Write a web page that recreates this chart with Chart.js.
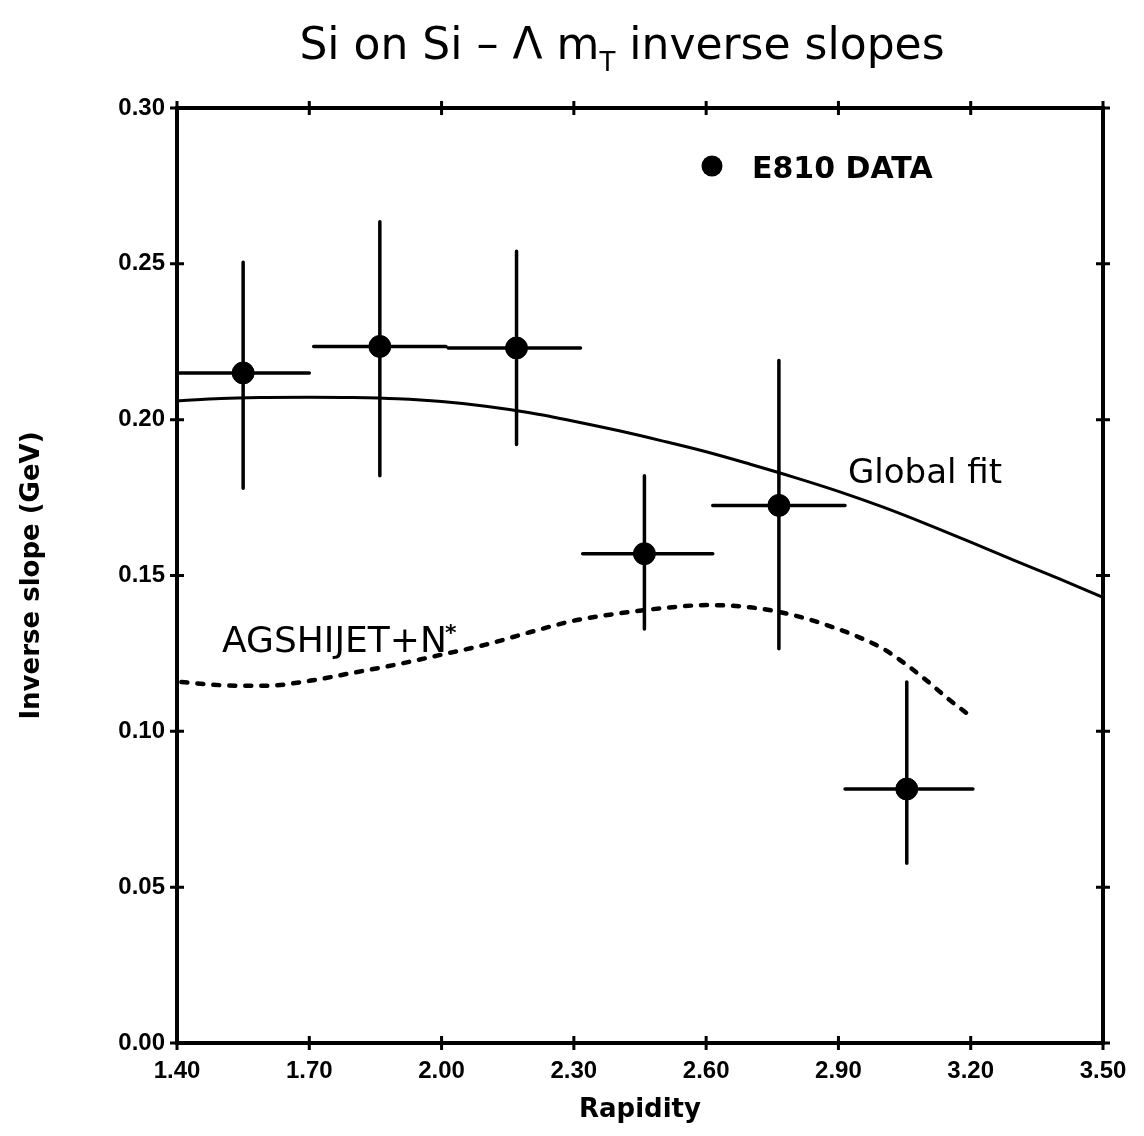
<!DOCTYPE html>
<html>
<head>
<meta charset="utf-8">
<title>Si on Si - Lambda mT inverse slopes</title>
<script src="https://cdn.jsdelivr.net/npm/chart.js@4.4.0/dist/chart.umd.min.js"></script>
<style>
  html, body { margin: 0; padding: 0; background: #fff; }
  #wrap { width: 1144px; height: 1136px; }
</style>
</head>
<body>
<div id="wrap"><canvas id="slopeChart"></canvas></div>
<script>
// E810 measurements: rapidity of each point, bin edges, inverse slopes and error bar ends (GeV)
const rapidity = [1.55, 1.86, 2.17, 2.46, 2.765, 3.055];
const binLow = [1.40, 1.71, 2.015, 2.32, 2.615, 2.915];
const binHigh = [1.70, 2.01, 2.315, 2.615, 2.915, 3.205];
const slope = [0.215, 0.2235, 0.223, 0.157, 0.1725, 0.0815];
const slopeHigh = [0.2505, 0.2635, 0.254, 0.182, 0.219, 0.1158];
const slopeLow = [0.178, 0.182, 0.192, 0.1328, 0.1265, 0.0577];

// global fit curve
const fitRapidity = [1.40, 1.50, 1.60, 1.70, 1.80, 1.90, 2.00, 2.10, 2.20, 2.30, 2.40,
  2.50, 2.60, 2.70, 2.80, 2.90, 3.00, 3.10, 3.20, 3.30, 3.40, 3.50];
const fitSlope = [0.206, 0.2068, 0.2071, 0.2072, 0.2071, 0.2067, 0.2058, 0.2043, 0.2022, 0.1995, 0.1965,
  0.1932, 0.1897, 0.1857, 0.1815, 0.1770, 0.1720, 0.1665, 0.1607, 0.1548, 0.149, 0.143];

// AGSHIJET+N* model
const agsRapidity = [1.41, 1.50, 1.60, 1.70, 1.80, 1.90, 2.00, 2.10, 2.20, 2.30, 2.40,
  2.50, 2.60, 2.70, 2.80, 2.90, 2.95, 3.00, 3.05, 3.10, 3.15, 3.19];
const agsSlope = [0.1158, 0.1148, 0.1146, 0.1162, 0.1188, 0.1215, 0.1246, 0.1278, 0.1318, 0.1355, 0.1378,
  0.1395, 0.1405, 0.1398, 0.1372, 0.1328, 0.1300, 0.1266, 0.1218, 0.1163, 0.1103, 0.1059];

const xTicks = [1.40, 1.70, 2.00, 2.30, 2.60, 2.90, 3.20, 3.50];
const yTicks = [0.00, 0.05, 0.10, 0.15, 0.20, 0.25, 0.30];

const toXY = (xs, ys) => xs.map((x, i) => ({ x: x, y: ys[i] }));

// error bars under the points
const errorBars = {
  id: 'errorBars',
  beforeDatasetsDraw(chart) {
    const { ctx, scales: { x, y } } = chart;
    ctx.save();
    ctx.strokeStyle = '#000';
    ctx.lineWidth = 3.5;
    ctx.lineCap = 'round';
    rapidity.forEach((r, i) => {
      const px = x.getPixelForValue(r);
      const py = y.getPixelForValue(slope[i]);
      ctx.beginPath();
      ctx.moveTo(x.getPixelForValue(binLow[i]), py);
      ctx.lineTo(x.getPixelForValue(binHigh[i]), py);
      ctx.moveTo(px, y.getPixelForValue(slopeLow[i]));
      ctx.lineTo(px, y.getPixelForValue(slopeHigh[i]));
      ctx.stroke();
    });
    ctx.restore();
  }
};

// frame with ticks crossing all four sides, title, legend and curve labels
const decorations = {
  id: 'decorations',
  afterDraw(chart) {
    const { ctx, chartArea: a, scales: { x, y } } = chart;
    ctx.save();
    ctx.strokeStyle = '#000';
    ctx.lineWidth = 4;
    ctx.strokeRect(a.left, a.top, a.right - a.left, a.bottom - a.top);

    ctx.lineWidth = 3;
    ctx.beginPath();
    xTicks.forEach(v => {
      const px = x.getPixelForValue(v);
      ctx.moveTo(px, a.top - 7); ctx.lineTo(px, a.top + 7);
      ctx.moveTo(px, a.bottom - 7); ctx.lineTo(px, a.bottom + 7);
    });
    yTicks.forEach(v => {
      const py = y.getPixelForValue(v);
      ctx.moveTo(a.left - 7, py); ctx.lineTo(a.left + 7, py);
      ctx.moveTo(a.right - 7, py); ctx.lineTo(a.right + 7, py);
    });
    ctx.stroke();

    ctx.fillStyle = '#000';
    ctx.textBaseline = 'alphabetic';

    // title with subscript T
    const big = '44px "DejaVu Sans"';
    const small = '26px "DejaVu Sans"';
    const parts = [['Si on Si \u2013 \u039B m', big, 0], ['T', small, 12], [' inverse slopes', big, 0]];
    let total = 0;
    parts.forEach(p => { ctx.font = p[1]; total += ctx.measureText(p[0]).width; });
    let tx = 622 - total / 2;
    parts.forEach(p => {
      ctx.font = p[1];
      ctx.fillText(p[0], tx, 59 + p[2]);
      tx += ctx.measureText(p[0]).width;
    });

    // legend
    ctx.beginPath();
    ctx.arc(712, 166, 10.5, 0, Math.PI * 2);
    ctx.fill();
    ctx.font = 'bold 30px "DejaVu Sans"';
    ctx.fillText('E810 DATA', 752, 178);

    // curve labels
    ctx.font = '34px "DejaVu Sans"';
    ctx.fillText('Global fit', 848, 483);
    ctx.font = '36px "DejaVu Sans"';
    ctx.fillText('AGSHIJET+N', 222, 652);
    const w = ctx.measureText('AGSHIJET+N').width;
    ctx.font = 'bold 22px "DejaVu Sans"';
    ctx.fillText('*', 222 + w - 2, 640);
    ctx.restore();
  }
};

const ctx = document.getElementById('slopeChart').getContext('2d');

const slopeChart = new Chart(ctx, {
  type: 'scatter',
  data: {
    datasets: [
      {
        label: 'E810 DATA',
        data: toXY(rapidity, slope),
        backgroundColor: '#000',
        borderColor: '#000',
        pointRadius: 11,
        pointHoverRadius: 11
      },
      {
        label: 'Global fit',
        data: toXY(fitRapidity, fitSlope),
        showLine: true,
        borderColor: '#000',
        borderWidth: 3,
        pointRadius: 0,
        cubicInterpolationMode: 'monotone'
      },
      {
        label: 'AGSHIJET+N*',
        data: toXY(agsRapidity, agsSlope),
        showLine: true,
        borderColor: '#000',
        borderWidth: 4.5,
        borderDash: [6, 10],
        borderCapStyle: 'round',
        pointRadius: 0,
        cubicInterpolationMode: 'monotone'
      }
    ]
  },
  options: {
    responsive: true,
    maintainAspectRatio: false,
    animation: false,
    layout: { padding: { top: 108, right: 41, left: 0, bottom: 0 } },
    plugins: {
      legend: { display: false },
      tooltip: { enabled: false }
    },
    scales: {
      x: {
        type: 'linear',
        min: 1.4,
        max: 3.5,
        afterBuildTicks: s => { s.ticks = xTicks.map(v => ({ value: v })); },
        afterFit: s => { s.height = 93; },
        grid: { display: false, drawTicks: false },
        border: { display: false },
        ticks: {
          padding: 14,
          color: '#000',
          font: { family: '"Liberation Sans"', weight: 'bold', size: 24 },
          callback: v => v.toFixed(2)
        },
        title: {
          display: true,
          text: 'Rapidity',
          color: '#000',
          font: { family: '"DejaVu Sans"', weight: 'bold', size: 26 },
          padding: { top: 4, bottom: 10 }
        }
      },
      y: {
        min: 0,
        max: 0.3,
        afterBuildTicks: s => { s.ticks = yTicks.map(v => ({ value: v })); },
        afterFit: s => { s.width = 177; },
        grid: { display: false, drawTicks: false },
        border: { display: false },
        ticks: {
          padding: 12,
          color: '#000',
          font: { family: '"Liberation Sans"', weight: 'bold', size: 24 },
          callback: v => v.toFixed(2)
        },
        title: {
          display: true,
          text: 'Inverse slope (GeV)',
          color: '#000',
          font: { family: '"DejaVu Sans"', weight: 'bold', size: 26 },
          padding: { top: 17, bottom: 0 }
        }
      }
    }
  },
  plugins: [errorBars, decorations]
});
</script>
</body>
</html>
